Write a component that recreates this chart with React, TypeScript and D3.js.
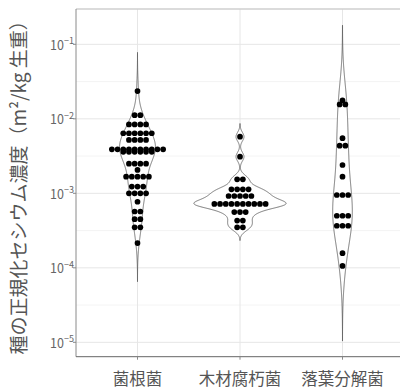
import React, { useMemo } from 'react';
import * as d3 from 'd3';

const categories = ['菌根菌', '木材腐朽菌', '落葉分解菌'];

// one entry per dot row: concentration (m²/kg) and the number of dots on that row
const mycoLevels = [2.36e-2, 1.12e-2, 8.4e-3, 6.4e-3, 5.2e-3, 3.9e-3, 3.6e-3, 2.5e-3, 2.06e-3, 1.67e-3, 1.23e-3, 1.0e-3, 7.7e-4, 5.7e-4, 4.5e-4, 3.5e-4, 2.15e-4];
const mycoCounts = [1, 2, 4, 6, 4, 10, 6, 4, 1, 5, 3, 4, 1, 2, 2, 2, 1];

const woodLevels = [5.75e-3, 3.1e-3, 1.54e-3, 1.13e-3, 9.2e-4, 7.2e-4, 5.6e-4, 4.3e-4, 3.5e-4];
const woodCounts = [1, 1, 2, 4, 5, 10, 3, 2, 2];

const litterLevels = [1.77e-2, 1.56e-2, 5.5e-3, 4.36e-3, 2.4e-3, 1.67e-3, 9.5e-4, 5.0e-4, 3.67e-4, 1.57e-4, 1.06e-4];
const litterCounts = [1, 2, 1, 2, 1, 1, 3, 3, 3, 1, 1];

const yTicks = [1e-5, 1e-4, 1e-3, 1e-2, 1e-1];
const yTickExp = ['−5', '−4', '−3', '−2', '−1'];

const groups = [
  { levels: mycoLevels, counts: mycoCounts },
  { levels: woodLevels, counts: woodCounts },
  { levels: litterLevels, counts: litterCounts },
];

const W = 400;
const H = 390;
const panel = { left: 76, right: 404, top: 9, bottom: 356.7 };
const dotD = 5.7;

// R's bw.nrd0
function nrd0(x: number[]) {
  const s = [...x].sort(d3.ascending);
  const sd = d3.deviation(s) || 0;
  const iqr = (d3.quantile(s, 0.75) as number) - (d3.quantile(s, 0.25) as number);
  let lo = Math.min(sd, iqr / 1.34);
  if (!lo) lo = sd || Math.abs(s[0]) || 1;
  return 0.9 * lo * Math.pow(s.length, -0.2);
}

function kde(x: number[]) {
  const bw = nrd0(x);
  const lo = (d3.min(x) as number) - 3 * bw;
  const hi = (d3.max(x) as number) + 3 * bw;
  const n = 512;
  const k = 1 / (Math.sqrt(2 * Math.PI) * bw * x.length);
  return d3.range(n).map(i => {
    const t = lo + ((hi - lo) * i) / (n - 1);
    let s = 0;
    for (const v of x) {
      const z = (t - v) / bw;
      s += Math.exp(-0.5 * z * z);
    }
    return { t, d: s * k };
  });
}

const App: React.FC = () => {
  const x = d3.scalePoint<string>().domain(categories).range([panel.left, panel.right]).padding(0.6);
  const y = d3.scaleLog().domain([Math.pow(10, -5.193), Math.pow(10, -0.526)]).range([panel.bottom, panel.top]);
  const step = x.step();

  const { violins, maxD } = useMemo(() => {
    const violins = groups.map(g => {
      const vals: number[] = [];
      g.levels.forEach((v, i) => {
        for (let j = 0; j < g.counts[i]; j++) vals.push(Math.log10(v));
      });
      return kde(vals);
    });
    const maxD = d3.max(violins.flat(), p => p.d) as number;
    return { violins, maxD };
  }, []);

  const minorTicks = yTicks.slice(1).map((t, i) => Math.sqrt(t * yTicks[i]));

  return (
    <svg width={W} height={H} style={{ position: 'absolute', left: 0, top: 0, background: '#fff' }}
      fontFamily="'Noto Sans CJK JP', 'Noto Sans', sans-serif">
      {/* grid */}
      {minorTicks.map((t, i) => (
        <line key={'mn' + i} x1={panel.left} x2={panel.right} y1={y(t)} y2={y(t)} stroke="#f0f0f0" strokeWidth={0.8} />
      ))}
      {yTicks.map((t, i) => (
        <line key={'mj' + i} x1={panel.left} x2={panel.right} y1={y(t)} y2={y(t)} stroke="#e6e6e6" strokeWidth={1} />
      ))}
      {categories.map(c => (
        <line key={'vx' + c} x1={x(c)} x2={x(c)} y1={panel.top} y2={panel.bottom} stroke="#e6e6e6" strokeWidth={1} />
      ))}

      {/* violins */}
      {violins.map((pts, gi) => {
        const cx = x(categories[gi]) as number;
        const area = d3.area<{ t: number; d: number }>()
          .y(p => y(Math.pow(10, p.t)))
          .x0(p => cx - (p.d / maxD) * 0.45 * step)
          .x1(p => cx + (p.d / maxD) * 0.45 * step);
        return <path key={gi} d={area(pts) || ''} fill="#fff" stroke="#555" strokeWidth={0.8} />;
      })}

      {/* dots */}
      {groups.map((g, gi) => {
        const cx = x(categories[gi]) as number;
        return g.levels.map((v, ri) =>
          d3.range(g.counts[ri]).map(j => (
            <circle key={`${gi}-${ri}-${j}`} cx={cx + (j - (g.counts[ri] - 1) / 2) * dotD} cy={y(v)} r={dotD / 2} fill="#000" />
          ))
        );
      })}

      {/* panel border */}
      <line x1={panel.left} x2={panel.right} y1={panel.top} y2={panel.top} stroke="#cfcfcf" strokeWidth={1.5} />
      <line x1={panel.left} x2={panel.left} y1={panel.top} y2={panel.bottom} stroke="#8a8a8a" strokeWidth={1} />
      <line x1={panel.left} x2={panel.right} y1={panel.bottom} y2={panel.bottom} stroke="#666" strokeWidth={1} />

      {/* y axis */}
      {yTicks.map((t, i) => (
        <g key={'yt' + i}>
          <line x1={panel.left - 3} x2={panel.left} y1={y(t)} y2={y(t)} stroke="#8a8a8a" />
          <text x={panel.left - 2} y={y(t) + 5.5} textAnchor="end" fontSize={12.5} fill="#666">
            10<tspan dy={-5.5} fontSize={9}>{yTickExp[i]}</tspan>
          </text>
        </g>
      ))}

      {/* x axis */}
      {categories.map(c => (
        <g key={'xt' + c}>
          <line x1={x(c)} x2={x(c)} y1={panel.bottom} y2={panel.bottom + 3} stroke="#8a8a8a" />
          <text x={x(c)} y={385} textAnchor="middle" fontSize={16.5} fill="#555">{c}</text>
        </g>
      ))}

      <text transform={`translate(17.5, ${(panel.top + panel.bottom) / 2}) rotate(-90)`} textAnchor="middle"
        dominantBaseline="central" fontSize={19} fill="#555">
        種の正規化セシウム濃度（m²/kg 生重）
      </text>
    </svg>
  );
};

export default App;
